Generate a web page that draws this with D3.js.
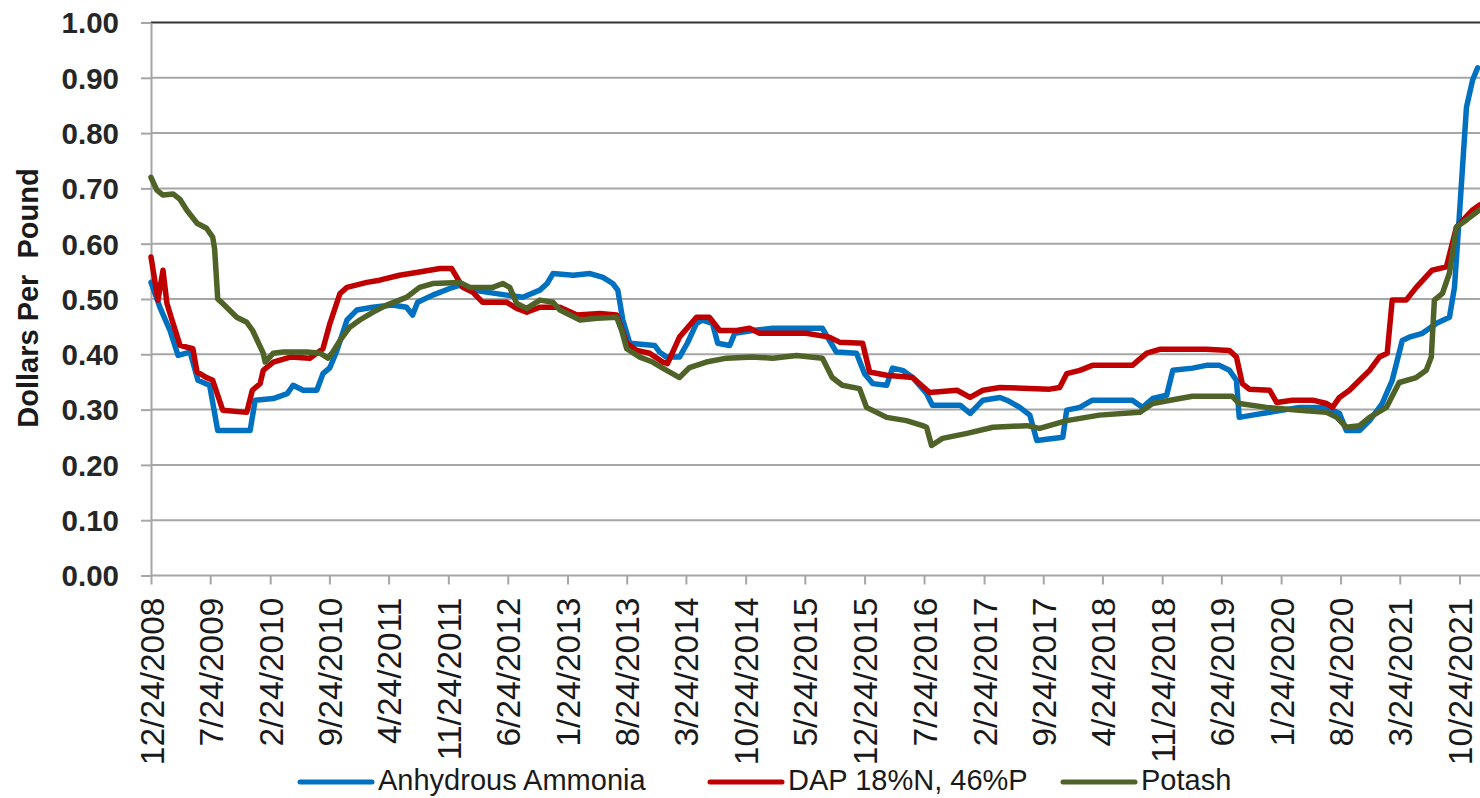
<!DOCTYPE html>
<html>
<head>
<meta charset="utf-8">
<script src="https://cdn.jsdelivr.net/npm/d3@7/dist/d3.min.js"></script>
<style>
  html, body { margin: 0; padding: 0; background: #fff; }
  svg { display: block; }
</style>
</head>
<body>
<svg id="chart" width="1480" height="798"></svg>
<script>
// ---------------- DATA ----------------
const tickLabels = ["12/24/2008","7/24/2009","2/24/2010","9/24/2010","4/24/2011","11/24/2011",
  "6/24/2012","1/24/2013","8/24/2013","3/24/2014","10/24/2014","5/24/2015","12/24/2015",
  "7/24/2016","2/24/2017","9/24/2017","4/24/2018","11/24/2018","6/24/2019","1/24/2020",
  "8/24/2020","3/24/2021","10/24/2021"];

const yTicks = [0, 0.1, 0.2, 0.3, 0.4, 0.5, 0.6, 0.7, 0.8, 0.9, 1.0];

const seriesNames = ["Anhydrous Ammonia", "DAP 18%N, 46%P", "Potash"];

const ammonia = [
  ["2008-12-24",0.530],["2009-01-25",0.485],["2009-03-02",0.443],["2009-03-31",0.398],
  ["2009-05-13",0.404],["2009-06-10",0.353],["2009-07-22",0.344],["2009-08-20",0.262],
  ["2009-12-14",0.262],["2010-01-01",0.317],["2010-03-07",0.320],["2010-04-26",0.329],
  ["2010-05-17",0.344],["2010-06-22",0.335],["2010-08-10",0.335],["2010-09-01",0.365],
  ["2010-09-26",0.376],["2010-10-21",0.407],["2010-11-26",0.462],["2010-12-31",0.480],
  ["2011-02-26",0.485],["2011-05-08",0.489],["2011-06-27",0.485],["2011-07-19",0.471],
  ["2011-08-06",0.494],["2011-09-29",0.507],["2011-11-29",0.519],["2012-01-04",0.525],
  ["2012-02-20",0.516],["2012-06-20",0.507],["2012-08-17",0.503],["2012-10-17",0.516],
  ["2012-11-12",0.528],["2012-12-03",0.546],["2013-02-13",0.543],["2013-04-15",0.546],
  ["2013-05-31",0.539],["2013-07-05",0.528],["2013-07-23",0.516],["2013-08-10",0.462],
  ["2013-09-04",0.420],["2013-12-02",0.416],["2013-12-20",0.404],["2014-01-13",0.395],
  ["2014-03-01",0.395],["2014-03-29",0.420],["2014-05-01",0.456],["2014-05-22",0.462],
  ["2014-06-27",0.456],["2014-07-16",0.420],["2014-08-28",0.416],["2014-09-15",0.438],
  ["2014-11-18",0.443],["2015-01-29",0.447],["2015-07-26",0.447],["2015-08-20",0.425],
  ["2015-09-14",0.404],["2015-11-25",0.402],["2015-12-24",0.365],["2016-01-22",0.347],
  ["2016-03-12",0.344],["2016-04-02",0.375],["2016-05-08",0.371],["2016-06-13",0.358],
  ["2016-08-02",0.329],["2016-08-23",0.308],["2016-11-30",0.308],["2017-01-05",0.293],
  ["2017-02-20",0.317],["2017-04-22",0.322],["2017-05-17",0.317],["2017-07-02",0.304],
  ["2017-08-07",0.290],["2017-09-01",0.244],["2017-12-03",0.250],["2017-12-17",0.299],
  ["2018-02-02",0.304],["2018-03-19",0.317],["2018-08-09",0.317],["2018-09-15",0.304],
  ["2018-10-21",0.320],["2018-12-10",0.326],["2019-01-01",0.371],["2019-03-13",0.375],
  ["2019-05-01",0.380],["2019-06-17",0.380],["2019-07-23",0.371],["2019-08-17",0.353],
  ["2019-08-27",0.286],["2019-10-13",0.290],["2020-03-30",0.304],["2020-07-05",0.304],
  ["2020-08-20",0.293],["2020-09-14",0.262],["2020-10-31",0.262],["2020-12-06",0.280],
  ["2021-01-20",0.311],["2021-02-25",0.353],["2021-04-02",0.425],["2021-04-27",0.431],
  ["2021-06-13",0.438],["2021-08-03",0.456],["2021-09-18",0.467],["2021-10-06",0.521],
  ["2021-10-24",0.655],["2021-11-18",0.847],["2021-12-10",0.896],["2021-12-28",0.918]
];

const dap = [
  ["2008-12-24",0.576],["2009-01-18",0.498],["2009-02-05",0.552],["2009-02-19",0.492],
  ["2009-03-13",0.456],["2009-04-07",0.416],["2009-05-23",0.410],["2009-06-07",0.368],
  ["2009-07-11",0.358],["2009-08-02",0.353],["2009-09-07",0.299],["2009-12-02",0.295],
  ["2009-12-22",0.335],["2010-01-19",0.347],["2010-01-30",0.371],["2010-03-07",0.386],
  ["2010-05-07",0.395],["2010-07-16",0.393],["2010-09-01",0.410],["2010-09-26",0.456],
  ["2010-11-01",0.510],["2010-11-26",0.521],["2011-02-05",0.530],["2011-03-23",0.534],
  ["2011-06-02",0.543],["2011-08-02",0.548],["2011-10-25",0.555],["2011-12-06",0.555],
  ["2012-01-15",0.521],["2012-02-20",0.512],["2012-03-26",0.494],["2012-06-20",0.494],
  ["2012-07-26",0.483],["2012-08-31",0.476],["2012-10-17",0.485],["2012-12-28",0.485],
  ["2013-02-27",0.471],["2013-05-20",0.474],["2013-07-19",0.471],["2013-08-24",0.420],
  ["2013-09-29",0.407],["2013-11-14",0.402],["2013-12-31",0.386],["2014-01-17",0.383],
  ["2014-03-01",0.431],["2014-05-01",0.467],["2014-06-16",0.467],["2014-07-23",0.443],
  ["2014-09-22",0.443],["2014-11-07",0.447],["2014-12-13",0.438],["2015-05-29",0.438],
  ["2015-08-20",0.431],["2015-09-25",0.422],["2015-12-17",0.420],["2016-01-11",0.368],
  ["2016-03-12",0.362],["2016-06-13",0.358],["2016-08-13",0.331],["2016-11-19",0.335],
  ["2017-01-05",0.322],["2017-02-20",0.335],["2017-04-22",0.340],["2017-10-17",0.337],
  ["2017-11-22",0.340],["2017-12-17",0.365],["2018-02-02",0.371],["2018-03-19",0.380],
  ["2018-08-09",0.380],["2018-09-30",0.402],["2018-11-15",0.409],["2019-05-01",0.409],
  ["2019-07-23",0.407],["2019-08-17",0.395],["2019-09-07",0.347],["2019-10-02",0.337],
  ["2019-12-14",0.335],["2020-01-08",0.313],["2020-03-05",0.317],["2020-05-16",0.317],
  ["2020-07-05",0.311],["2020-07-26",0.304],["2020-08-20",0.322],["2020-09-25",0.335],
  ["2020-10-31",0.353],["2020-12-06",0.371],["2021-01-10",0.395],["2021-02-07",0.402],
  ["2021-02-25",0.498],["2021-04-16",0.498],["2021-05-22",0.521],["2021-07-18",0.552],
  ["2021-09-07",0.558],["2021-10-13",0.630],["2021-12-10",0.661],["2022-01-04",0.670]
];

const potash = [
  ["2008-12-24",0.720],["2009-01-14",0.697],["2009-02-05",0.688],["2009-03-13",0.690],
  ["2009-04-07",0.680],["2009-05-02",0.660],["2009-06-07",0.637],["2009-07-11",0.628],
  ["2009-08-02",0.612],["2009-08-09",0.590],["2009-08-20",0.500],["2009-09-07",0.492],
  ["2009-10-27",0.467],["2009-12-02",0.458],["2009-12-23",0.443],["2010-01-30",0.402],
  ["2010-02-06",0.386],["2010-03-07",0.402],["2010-04-12",0.404],["2010-07-06",0.404],
  ["2010-08-21",0.402],["2010-09-19",0.393],["2010-10-06",0.404],["2010-11-01",0.425],
  ["2010-12-06",0.449],["2011-01-11",0.462],["2011-02-26",0.476],["2011-04-17",0.489],
  ["2011-06-27",0.503],["2011-08-13",0.521],["2011-09-29",0.528],["2012-01-04",0.530],
  ["2012-02-09",0.521],["2012-05-01",0.521],["2012-06-06",0.528],["2012-07-01",0.521],
  ["2012-07-26",0.492],["2012-08-31",0.483],["2012-10-17",0.498],["2012-12-03",0.494],
  ["2012-12-28",0.480],["2013-03-10",0.462],["2013-05-10",0.465],["2013-07-19",0.467],
  ["2013-08-06",0.443],["2013-08-24",0.410],["2013-10-10",0.395],["2013-11-25",0.386],
  ["2013-12-31",0.375],["2014-03-01",0.358],["2014-04-06",0.376],["2014-06-05",0.386],
  ["2014-08-17",0.393],["2014-11-18",0.395],["2015-01-29",0.393],["2015-04-24",0.398],
  ["2015-07-26",0.393],["2015-08-30",0.358],["2015-10-05",0.344],["2015-12-06",0.338],
  ["2015-12-31",0.304],["2016-03-12",0.286],["2016-05-22",0.280],["2016-07-19",0.271],
  ["2016-08-02",0.268],["2016-08-20",0.235],["2016-09-28",0.248],["2016-12-25",0.257],
  ["2017-03-28",0.268],["2017-07-27",0.271],["2017-09-11",0.266],["2017-12-17",0.280],
  ["2018-04-13",0.290],["2018-09-04",0.295],["2018-10-21",0.311],["2019-01-26",0.320],
  ["2019-03-13",0.324],["2019-08-02",0.324],["2019-08-27",0.311],["2019-12-03",0.304],
  ["2020-03-30",0.299],["2020-07-05",0.295],["2020-08-10",0.286],["2020-09-14",0.268],
  ["2020-10-31",0.271],["2020-12-06",0.286],["2021-02-04",0.304],["2021-03-22",0.349],
  ["2021-05-22",0.358],["2021-06-27",0.371],["2021-07-15",0.395],["2021-07-26",0.498],
  ["2021-08-24",0.510],["2021-09-18",0.547],["2021-10-13",0.630],["2021-11-18",0.643],
  ["2022-01-04",0.661]
];

const seriesColors = ["#0070C0", "#C00000", "#4F6228"];

// ---------------- LAYOUT ----------------
const plotLeft = 151, plotRight = 1480, plotTop = 22.5, plotBottom = 575.5;
const legendStarts = [300, 710, 1063];
const parseTick = d3.utcParse("%m/%d/%Y");
const parseDate = d3.utcParse("%Y-%m-%d");

const svg = d3.select("#chart");

const x = d3.scaleUtc()
  .domain([parseTick(tickLabels[0]), parseTick(tickLabels[tickLabels.length - 1])])
  .range([plotLeft, 1459.5]);
const y = d3.scaleLinear().domain([0, 1]).range([plotBottom, plotTop]);

// gridlines
svg.append("g").selectAll("line").data(yTicks.filter(d => d > 0)).join("line")
  .attr("x1", plotLeft).attr("x2", plotRight)
  .attr("y1", d => y(d)).attr("y2", d => y(d))
  .attr("stroke", d => d === 1 ? "#333333" : "#a6a6a6")
  .attr("stroke-width", 2);

// y axis
const yAxis = d3.axisLeft(y).tickValues(yTicks).tickFormat(d3.format(".2f"))
  .tickSize(10).tickPadding(22).tickSizeOuter(0);
const gy = svg.append("g").attr("transform", `translate(${plotLeft},0)`).call(yAxis);
gy.select(".domain").attr("stroke", "#a6a6a6").attr("stroke-width", 2);
gy.selectAll(".tick line").attr("stroke", "#a6a6a6").attr("stroke-width", 2);
gy.selectAll(".tick text")
  .attr("font-family", "'Liberation Sans', Arial, sans-serif")
  .attr("font-size", 29.5).attr("font-weight", "bold").attr("fill", "#262626")
  .attr("dy", "0.35em");

// x axis
const xAxis = d3.axisBottom(x).tickValues(tickLabels.map(parseTick))
  .tickFormat((d, i) => tickLabels[i]).tickSize(9).tickSizeOuter(0);
const gx = svg.append("g").attr("transform", `translate(0,${plotBottom})`).call(xAxis);
gx.select(".domain").attr("stroke", "#a6a6a6").attr("stroke-width", 2)
  .attr("d", `M${plotLeft},0H${plotRight}`);
gx.selectAll(".tick line").attr("stroke", "#a6a6a6").attr("stroke-width", 2);
gx.selectAll(".tick text")
  .attr("font-family", "'Liberation Sans', Arial, sans-serif")
  .attr("font-size", 33.5).attr("fill", "#1a1a1a")
  .attr("text-anchor", "end")
  .attr("transform", "translate(0,22) rotate(-90)")
  .attr("x", 0).attr("y", 0).attr("dy", "0.36em");

// y title
svg.append("text")
  .attr("transform", "translate(38,298) rotate(-90)")
  .attr("text-anchor", "middle")
  .attr("font-family", "'Liberation Sans', Arial, sans-serif")
  .attr("font-size", 29).attr("font-weight", "bold").attr("fill", "#1a1a1a")
  .style("white-space", "pre")
  .text("Dollars Per  Pound");

// lines
const line = d3.line().x(d => x(parseDate(d[0]))).y(d => y(d[1])).curve(d3.curveLinear);
[ammonia, dap, potash].forEach((s, i) => {
  svg.append("path").datum(s)
    .attr("fill", "none").attr("stroke", seriesColors[i])
    .attr("stroke-width", 5.5).attr("stroke-linejoin", "round").attr("stroke-linecap", "round")
    .attr("d", line);
});

// legend
const lg = svg.append("g");
const ly = 782;
seriesNames.forEach((name, i) => {
  const lx = legendStarts[i];
  lg.append("line").attr("x1", lx).attr("x2", lx + 72).attr("y1", ly).attr("y2", ly)
    .attr("stroke", seriesColors[i]).attr("stroke-width", 5).attr("stroke-linecap", "round");
  lg.append("text").attr("x", lx + 78).attr("y", 790)
    .attr("font-family", "'Liberation Sans', Arial, sans-serif")
    .attr("font-size", 29).attr("fill", "#1a1a1a").text(name);
});
</script>
</body>
</html>
